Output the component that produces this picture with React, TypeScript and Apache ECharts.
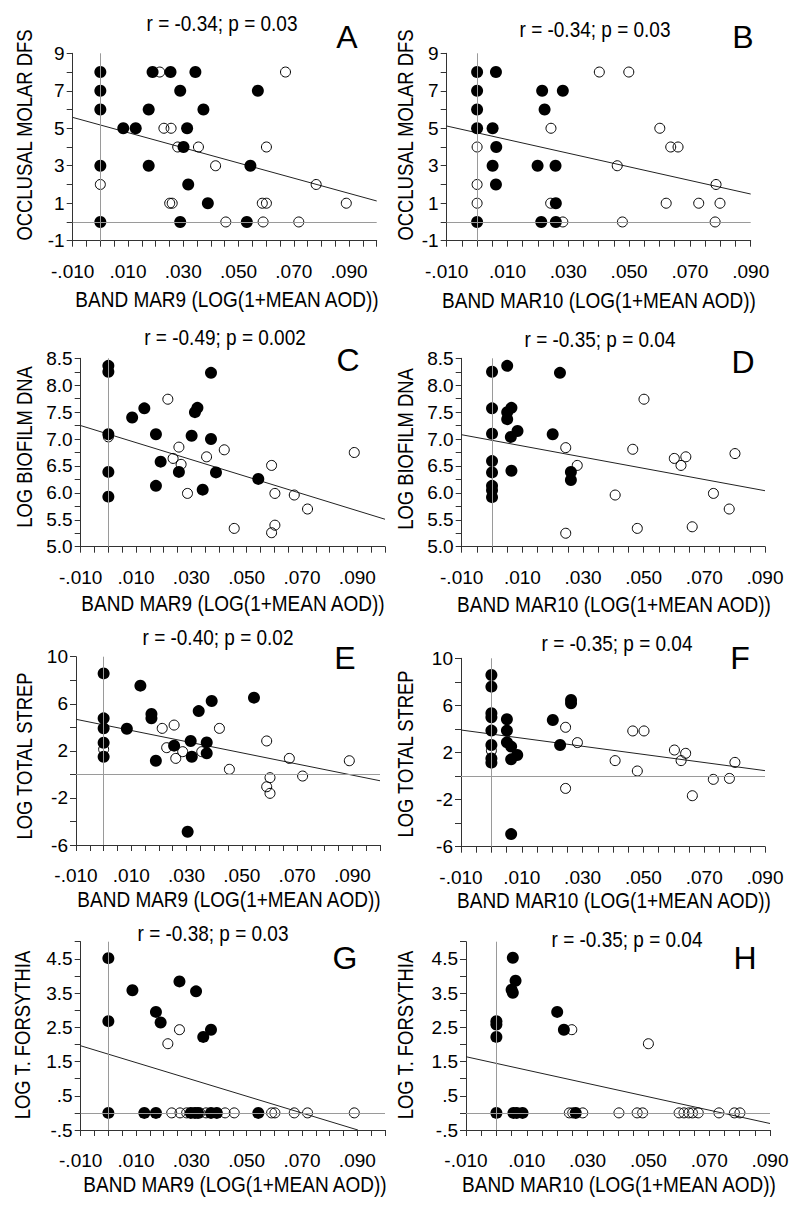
import React, { useEffect, useRef } from "react";
import * as echarts from "echarts";

const FONT = "'Liberation Sans', Arial, Helvetica, sans-serif";

// ---------- DATA ----------
// Panel A: Occlusal molar DFS vs Band MAR9
const aFilled: number[][] = [
  [0, 8], [0, 7], [0, 6], [0, 3], [0, 0],
  [0.0189, 8], [0.0254, 8], [0.0344, 8], [0.0289, 7], [0.057, 7],
  [0.0175, 6], [0.0373, 6], [0.0083, 5], [0.0128, 5], [0.0314, 5],
  [0.0301, 4], [0.0175, 3], [0.0543, 3], [0.0318, 2], [0.0389, 1],
  [0.0289, 0], [0.053, 0],
];
const aOpen: number[][] = [
  [0, 2], [0.0215, 8], [0.067, 8], [0.023, 5], [0.0256, 5], [0.028, 4],
  [0.0355, 4], [0.0601, 4], [0.0417, 3], [0.0781, 2], [0.0251, 1], [0.026, 1],
  [0.0586, 1], [0.0601, 1], [0.089, 1], [0.0454, 0], [0.0589, 0], [0.0718, 0],
];
const aFit: number[][] = [[-0.01, 5.58], [0.1, 1.12]];

// Panel B: Occlusal molar DFS vs Band MAR10
const bFilled: number[][] = [
  [0, 8], [0, 7], [0, 6], [0, 5], [0, 0],
  [0.0062, 8], [0.0051, 5], [0.0063, 4], [0.0051, 3], [0.0062, 2],
  [0.0214, 7], [0.0282, 7], [0.0222, 6], [0.0199, 3], [0.0258, 3],
  [0.0259, 1], [0.0211, 0], [0.0259, 0],
];
const bOpen: number[][] = [
  [0, 4], [0, 2], [0, 1], [0.0402, 8], [0.0499, 8], [0.0243, 5], [0.0601, 5],
  [0.0461, 3], [0.0637, 4], [0.0661, 4], [0.0786, 2], [0.0242, 1], [0.0622, 1],
  [0.0729, 1], [0.0799, 1], [0.0282, 0], [0.0478, 0], [0.0783, 0],
];
const bFit: number[][] = [[-0.01, 5.12], [0.09, 1.49]];

// Panel C: Log biofilm DNA vs Band MAR9
const cFilled: number[][] = [
  [0, 8.36], [0, 8.25], [0, 7.09], [0, 6.39], [0, 5.93],
  [0.0086, 7.4], [0.013, 7.57], [0.0172, 7.09], [0.0189, 6.58], [0.0172, 6.13],
  [0.0255, 6.39], [0.0301, 7.06], [0.0313, 7.5], [0.0322, 7.58], [0.0371, 7.0],
  [0.0371, 8.23], [0.0389, 6.38], [0.0341, 6.06], [0.0542, 6.26],
];
const cOpen: number[][] = [
  [0, 7.04], [0.0215, 7.74], [0.0234, 6.64], [0.0255, 6.85], [0.0263, 6.53],
  [0.0286, 5.99], [0.0355, 6.67], [0.0419, 6.8], [0.0455, 5.34], [0.059, 6.51],
  [0.0602, 5.99], [0.0602, 5.4], [0.059, 5.26], [0.0672, 5.96], [0.072, 5.7],
  [0.0889, 6.75],
];
const cFit: number[][] = [[-0.01, 7.25], [0.1, 5.51]];

// Panel D: Log biofilm DNA vs Band MAR10
const dFilled: number[][] = [
  [0, 8.25], [0, 7.57], [0, 7.1], [0, 6.59], [0, 6.38], [0, 6.13], [0, 6.05], [0, 5.92],
  [0.005, 8.36], [0.005, 7.5], [0.005, 7.37], [0.0064, 7.58], [0.0062, 7.04],
  [0.0064, 6.41], [0.0084, 7.15], [0.02, 7.09], [0.0224, 8.23], [0.026, 6.39],
  [0.026, 6.24],
];
const dOpen: number[][] = [
  [0.0243, 6.84], [0.0243, 5.25], [0.0281, 6.51], [0.0406, 5.96], [0.0464, 6.81],
  [0.0479, 5.34], [0.0501, 7.74], [0.0601, 6.64], [0.0623, 6.51], [0.0639, 6.67],
  [0.066, 5.37], [0.073, 5.99], [0.0782, 5.7], [0.0801, 6.73],
];
const dFit: number[][] = [[-0.01, 7.08], [0.09, 6.04]];

// Panel E: Log total strep vs Band MAR9
const eFilled: number[][] = [
  [0, 8.58], [0, 4.76], [0, 3.91], [0, 2.69], [0, 1.5],
  [0.0133, 7.54], [0.0084, 3.88], [0.0173, 5.13], [0.0173, 4.76], [0.0189, 1.16],
  [0.0255, 2.44], [0.0315, 2.84], [0.0319, 1.5], [0.0304, -4.87], [0.0344, 5.38],
  [0.0373, 2.72], [0.0373, 1.79], [0.0391, 6.23], [0.0544, 6.52],
];
const eOpen: number[][] = [
  [0, 2.13], [0.0212, 3.91], [0.0228, 2.27], [0.0255, 4.19], [0.0261, 1.36],
  [0.0286, 1.93], [0.0355, 1.93], [0.0419, 3.91], [0.0455, 0.43], [0.059, 2.84],
  [0.059, -1.05], [0.0602, -0.28], [0.0602, -1.61], [0.0672, 1.36], [0.072, -0.14],
  [0.0889, 1.16],
];
const eFit: number[][] = [[-0.01, 4.68], [0.1, -0.54]];

// Panel F: Log total strep vs Band MAR10
const fFilled: number[][] = [
  [0, 8.58], [0, 7.59], [0, 5.33], [0, 4.99], [0, 3.86], [0, 2.64], [0, 1.5], [0, 1.14],
  [0.0051, 4.82], [0.0051, 3.86], [0.0051, 2.86], [0.0065, 2.5], [0.0065, 1.42],
  [0.0085, 1.79], [0.0065, -4.93], [0.0202, 4.76], [0.0226, 2.64], [0.0262, 6.46],
  [0.0262, 6.18],
];
const fOpen: number[][] = [
  [0, 2.16], [0.0244, 4.14], [0.0244, -1.05], [0.0283, 2.84], [0.0407, 1.31],
  [0.0465, 3.83], [0.048, 0.43], [0.0502, 3.83], [0.0602, 2.21], [0.0624, 1.31],
  [0.0639, 1.93], [0.0661, -1.67], [0.073, -0.28], [0.0783, -0.2], [0.0801, 1.16],
];
const fFit: number[][] = [[-0.01, 3.91], [0.09, 0.46]];

// Panel G: Log T. forsythia vs Band MAR9
const gFilled: number[][] = [
  [0, 4.52], [0, 2.68], [0.0087, 3.58], [0.0172, 2.95], [0.0189, 2.64],
  [0.0257, 3.84], [0.0317, 3.55], [0.0343, 2.22], [0.0371, 2.43],
  [0, 0], [0.013, 0], [0.0172, 0], [0.0298, 0], [0.0313, 0], [0.0324, 0],
  [0.0371, 0], [0.0392, 0], [0.0542, 0],
];
const gOpen: number[][] = [
  [0.0215, 2.02], [0.0257, 2.43],
  [0.0229, 0], [0.0259, 0], [0.0283, 0], [0.0331, 0], [0.0353, 0], [0.0422, 0],
  [0.0455, 0], [0.059, 0], [0.0602, 0], [0.0672, 0], [0.072, 0], [0.0889, 0],
];
const gFit: number[][] = [[-0.01, 1.96], [0.0902, -0.5]];

// Panel H: Log T. forsythia vs Band MAR10
const hFilled: number[][] = [
  [0, 2.68], [0, 2.58], [0, 2.22], [0.0054, 4.53], [0.005, 3.6], [0.0054, 3.51],
  [0.0063, 3.86], [0.02, 2.95], [0.0222, 2.43],
  [0, 0], [0.0056, 0], [0.0067, 0], [0.0086, 0], [0.0261, 0],
];
const hOpen: number[][] = [
  [0.0248, 2.43], [0.05, 2.02],
  [0.024, 0], [0.0251, 0], [0.0284, 0], [0.0403, 0], [0.0463, 0], [0.0481, 0],
  [0.0601, 0], [0.0617, 0], [0.0633, 0], [0.0645, 0], [0.0664, 0], [0.0732, 0],
  [0.0783, 0], [0.0801, 0],
];
const hFit: number[][] = [[-0.01, 1.64], [0.09, -0.31]];

// Texts
const letters = ["A", "B", "C", "D", "E", "F", "G", "H"];
const stats = [
  "r = -0.34; p = 0.03", "r = -0.34; p = 0.03",
  "r = -0.49; p = 0.002", "r = -0.35; p = 0.04",
  "r = -0.40; p = 0.02", "r = -0.35; p = 0.04",
  "r = -0.38; p = 0.03", "r = -0.35; p = 0.04",
];
const yNames = [
  "OCCLUSAL MOLAR DFS", "OCCLUSAL MOLAR DFS",
  "LOG BIOFILM DNA", "LOG BIOFILM DNA",
  "LOG TOTAL STREP", "LOG TOTAL STREP",
  "LOG T. FORSYTHIA", "LOG T. FORSYTHIA",
];
const xNames = [
  "BAND MAR9 (LOG(1+MEAN AOD))", "BAND MAR10 (LOG(1+MEAN AOD))",
  "BAND MAR9 (LOG(1+MEAN AOD))", "BAND MAR10 (LOG(1+MEAN AOD))",
  "BAND MAR9 (LOG(1+MEAN AOD))", "BAND MAR10 (LOG(1+MEAN AOD))",
  "BAND MAR9 (LOG(1+MEAN AOD))", "BAND MAR10 (LOG(1+MEAN AOD))",
];
const xMaxes = [0.1, 0.09, 0.1, 0.09, 0.1, 0.09, 0.1, 0.09];

// ---------- LAYOUT ----------
const grids = [
  { left: 72.7, top: 53.3, width: 304, height: 187.4 },
  { left: 446.7, top: 53.3, width: 304, height: 187.4 },
  { left: 80.7, top: 358.3, width: 304.3, height: 188.4 },
  { left: 461.7, top: 358.3, width: 303.3, height: 188.4 },
  { left: 76, top: 656.7, width: 304, height: 188.3 },
  { left: 461, top: 658.3, width: 304, height: 188.4 },
  { left: 80.7, top: 941.7, width: 304.3, height: 188.3 },
  { left: 466, top: 941.7, width: 304, height: 188.3 },
];
const titlePos = [[222, 24], [595, 30], [225, 338], [600, 340], [218, 638], [617, 644], [213, 934], [627, 940]];
const letterPos = [[347, 37], [743, 37], [348, 360], [743, 362], [345, 658], [740, 658], [345, 958], [745, 958]];
const xNamePos = [[227, 300], [599, 301], [233, 604], [614, 605], [229, 900], [614, 901], [235, 1185], [619, 1185]];
const yNamePos = [[25, 135], [406, 135], [25, 447], [406, 449], [25, 756], [406, 754], [23, 1035], [406, 1035]];

const strip = (s: string) => s.replace(/^(-?)0\./, "$1.");

const xFmt = (v: number) => {
  const k = Math.round((v + 0.01) / 0.005);
  if (k % 4 !== 0) return "";
  return strip((-0.01 + k * 0.005).toFixed(3));
};

type YSpec = { min: number; max: number; interval: number; fmt: (v: number) => string };
const ySpecDFS: YSpec = {
  min: -1, max: 9, interval: 1,
  fmt: (v) => (Math.round(v + 1) % 2 === 0 ? String(Math.round(v)) : ""),
};
const ySpecDNA: YSpec = {
  min: 5, max: 8.5, interval: 0.25,
  fmt: (v) => (Math.round((v - 5) / 0.25) % 2 === 0 ? v.toFixed(1) : ""),
};
const ySpecStrep: YSpec = {
  min: -6, max: 10, interval: 2,
  fmt: (v) => (Math.round((v + 6) / 2) % 2 === 0 ? String(Math.round(v)) : ""),
};
const ySpecTf: YSpec = {
  min: -0.5, max: 5, interval: 0.5,
  fmt: (v) => (Math.round((v + 0.5) / 0.5) % 2 === 0 ? strip(v.toFixed(1)) : ""),
};
const ySpecs = [ySpecDFS, ySpecDFS, ySpecDNA, ySpecDNA, ySpecStrep, ySpecStrep, ySpecTf, ySpecTf];

const filledSets = [aFilled, bFilled, cFilled, dFilled, eFilled, fFilled, gFilled, hFilled];
const openSets = [aOpen, bOpen, cOpen, dOpen, eOpen, fOpen, gOpen, hOpen];
const fitSets = [aFit, bFit, cFit, dFit, eFit, fFit, gFit, hFit];
const hasZeroLine = [true, true, false, false, true, true, true, true];

const AXIS_COLOR = "#333";

function buildOption() {
  const xAxis: any[] = [];
  const yAxis: any[] = [];
  const series: any[] = [];
  const graphic: any[] = [];

  for (let i = 0; i < 8; i++) {
    xAxis.push({
      type: "value",
      gridIndex: i,
      min: -0.01,
      max: xMaxes[i],
      interval: 0.005,
      splitLine: { show: false },
      axisLine: { show: true, onZero: false, lineStyle: { color: AXIS_COLOR, width: 1 } },
      axisTick: { show: true, inside: false, length: 6, lineStyle: { color: AXIS_COLOR, width: 1 } },
      axisLabel: {
        formatter: xFmt,
        fontSize: 19,
        fontFamily: FONT,
        color: "#000",
        margin: 21,
        showMaxLabel: true,
        showMinLabel: true,
      },
    });
    const ys = ySpecs[i];
    yAxis.push({
      type: "value",
      gridIndex: i,
      min: ys.min,
      max: ys.max,
      interval: ys.interval,
      splitLine: { show: false },
      axisLine: { show: true, onZero: false, lineStyle: { color: AXIS_COLOR, width: 1 } },
      axisTick: { show: true, inside: false, length: 6, lineStyle: { color: AXIS_COLOR, width: 1 } },
      axisLabel: {
        formatter: ys.fmt,
        fontSize: 19,
        fontFamily: FONT,
        color: "#000",
        margin: 8,
        showMaxLabel: true,
        showMinLabel: true,
      },
    });

    const refData: any[] = [{ xAxis: 0 }];
    if (hasZeroLine[i]) refData.push({ yAxis: 0 });

    series.push({
      type: "line",
      xAxisIndex: i,
      yAxisIndex: i,
      data: fitSets[i],
      showSymbol: false,
      symbol: "none",
      lineStyle: { color: "#222", width: 1 },
      z: 2,
      silent: true,
      markLine: {
        silent: true,
        symbol: ["none", "none"],
        label: { show: false },
        lineStyle: { color: "#9a9a9a", type: "solid", width: 1 },
        data: refData,
      },
    });
    series.push({
      type: "scatter",
      xAxisIndex: i,
      yAxisIndex: i,
      data: openSets[i],
      symbol: "circle",
      symbolSize: 10,
      itemStyle: { color: "rgba(0,0,0,0)", borderColor: "#000", borderWidth: 1, opacity: 1 },
      z: 3,
    });
    series.push({
      type: "scatter",
      xAxisIndex: i,
      yAxisIndex: i,
      data: filledSets[i],
      symbol: "circle",
      symbolSize: 12,
      itemStyle: { color: "#000", opacity: 1 },
      z: 4,
    });

    const textStyle = (text: string, size: number) => ({
      text,
      fontSize: size,
      fontFamily: FONT,
      fill: "#000",
      textAlign: "center",
      textVerticalAlign: "middle",
      align: "center",
      verticalAlign: "middle",
    });

    graphic.push({
      type: "text",
      x: titlePos[i][0],
      y: titlePos[i][1],
      scaleY: 1.12,
      style: textStyle(stats[i], 19),
    });
    graphic.push({
      type: "text",
      x: letterPos[i][0],
      y: letterPos[i][1],
      style: textStyle(letters[i], 32),
    });
    graphic.push({
      type: "text",
      x: xNamePos[i][0],
      y: xNamePos[i][1],
      scaleY: 1.12,
      style: textStyle(xNames[i], 19),
    });
    graphic.push({
      type: "text",
      x: yNamePos[i][0],
      y: yNamePos[i][1],
      rotation: Math.PI / 2,
      scaleY: 1.12,
      scaleX: 0.97,
      style: textStyle(yNames[i], 19),
    });
  }

  return {
    animation: false,
    backgroundColor: "#fff",
    grid: grids.map((g) => ({ ...g, containLabel: false })),
    xAxis,
    yAxis,
    series,
    graphic,
  };
}

export default function App() {
  const ref = useRef<HTMLDivElement>(null);
  useEffect(() => {
    if (!ref.current) return;
    const chart = echarts.init(ref.current, null, { renderer: "svg" });
    chart.setOption(buildOption() as any);
    return () => chart.dispose();
  }, []);
  return (
    <div
      ref={ref}
      style={{ position: "absolute", left: 0, top: 0, width: 800, height: 1207, background: "#fff" }}
    />
  );
}
